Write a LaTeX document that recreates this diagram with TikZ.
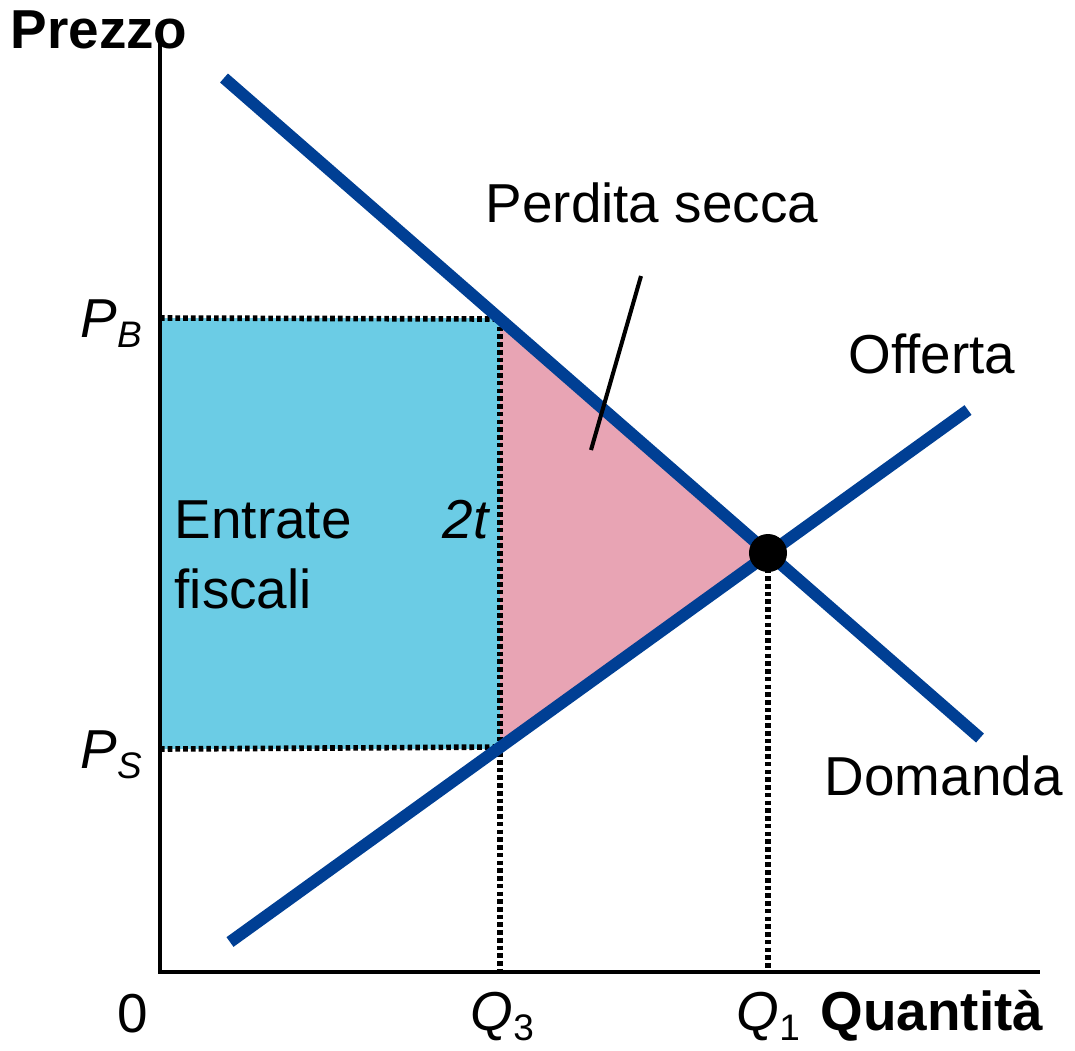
\documentclass[tikz,border=0pt]{standalone}
\usepackage{fontspec}
\setmainfont{Liberation Sans}
\definecolor{curveblue}{HTML}{003F94}
\definecolor{taxcyan}{HTML}{6BCCE5}
\definecolor{losspink}{HTML}{E8A4B4}
\newcommand{\lbl}{\fontsize{15.6pt}{18pt}\selectfont}
\newcommand{\subl}[1]{\raisebox{-0.2em}{\fontsize{10.5pt}{12pt}\selectfont #1}}
\begin{document}
\begin{tikzpicture}[x=0.01cm,y=-0.01cm,
  curve/.style={line width=3.4pt,curveblue},
  axis/.style={line width=1.15pt,black},
  guide/.style={line width=1.6pt,black,dash pattern=on 1.3pt off 0.9pt},
  txt/.style={inner sep=0pt,font=\lbl}]
\useasboundingbox (0,0) rectangle (1075,1050);
% key points
\coordinate (O) at (160,972);
\coordinate (ytop) at (160,40);
\coordinate (xend) at (1040,972);
\coordinate (d1) at (224,78);
\coordinate (d2) at (980,738);
\coordinate (s1) at (230,942);
\coordinate (s2) at (968,410);
\coordinate (E) at (768,553);
\coordinate (PB) at (160,318);
\coordinate (PS) at (160,749);
\coordinate (B3) at (500,319);
\coordinate (S3) at (500,747);
\coordinate (Q3) at (500,972);
\coordinate (Q1) at (768,972);
% areas
\fill[taxcyan] (PB) -- (500,318) -- (500,749) -- (PS) -- cycle;
\fill[losspink] (B3) -- (E) -- (S3) -- cycle;
% guides
\draw[guide] (PB) -- (B3);
\draw[guide] (PS) -- (S3);
\draw[guide] (B3) -- (Q3);
\draw[guide] (E) -- (Q1);
% curves
\draw[curve] (d1) -- (d2);
\draw[curve] (s1) -- (s2);
% axes
\draw[axis] (ytop) -- (O) -- (xend);
% equilibrium
\node[circle,fill=black,minimum size=0.38cm,inner sep=0pt] (eq) at (E) {};
% pointer
\coordinate (pa) at (641,276);
\coordinate (pb) at (591,450);
\draw[line width=1.15pt] (pa) -- (pb);
% labels
\node[txt,anchor=base west,font=\lbl\bfseries] (prezzo) at (10,48) {Prezzo};
\node[txt,anchor=base west,font=\lbl\bfseries] (quant) at (820,1030) {Quantità};
\node[txt,anchor=base west] (zero) at (117,1032) {0};
\node[txt,anchor=base west] (q3l) at (470,1030) {\textit{Q}\subl{3}};
\node[txt,anchor=base west] (q1l) at (736,1030) {\textit{Q}\subl{1}};
\node[txt,anchor=base west] (pbl) at (80,337) {\textit{P}\subl{\textit{B}}};
\node[txt,anchor=base west] (psl) at (80,768) {\textit{P}\subl{\textit{S}}};
\node[txt,anchor=base west] (entr) at (174,538) {Entrate};
\node[txt,anchor=base west] (fisc) at (174,608) {fiscali};
\node[txt,anchor=base west] (twot) at (442,538) {\textit{2t}};
\node[txt,anchor=base west] (perd) at (485,222) {Perdita secca};
\node[txt,anchor=base west] (off) at (848,373) {Offerta};
\node[txt,anchor=base west] (dom) at (824,795) {Domanda};
\end{tikzpicture}
\end{document}
